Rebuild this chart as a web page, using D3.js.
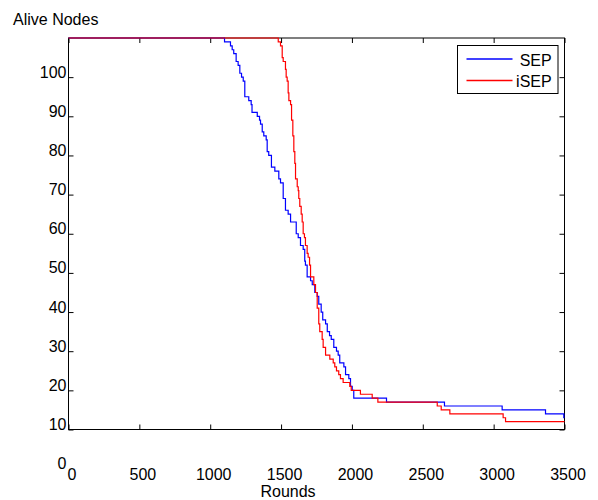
<!DOCTYPE html>
<html><head><meta charset="utf-8">
<script src="https://cdn.jsdelivr.net/npm/d3@7"></script>
<style>
body{margin:0;background:#fff}
text{font-family:"Liberation Sans",Arial,Helvetica,sans-serif;font-size:16px;fill:#000}
</style>
</head><body>
<svg id="c" width="598" height="500"></svg>
<script>
const seriesNames = ["SEP", "iSEP"];
const seriesColors = ["#0000ff", "#ff0000"];
const sepRounds = [0,1101,1143,1155,1166,1183,1197,1209,1221,1233,1244,1272,1289,1295,1332,1348,1355,1367,1378,1395,1402,1413,1432,1456,1484,1496,1515,1531,1550,1567,1607,1621,1637,1656,1667,1672,1684,1708,1720,1738,1755,1766,1783,1794,1814,1826,1842,1854,1872,1891,1903,1914,1943,1955,1978,1990,2002,2013,2244,2653,3060,3366,3495,3500];
const sepAlive = [110,109,108,107,106,104,103,101,100,99,95,94,93,91,90,89,88,86,85,84,81,80,77,76,74,73,69,66,65,63,60,59,57,56,53,52,49,48,47,45,44,42,40,38,37,35,34,33,31,30,29,27,26,24,23,21,20,18,17,16,15,14,13,13];
const isepRounds = [0,1480,1496,1508,1515,1531,1536,1543,1550,1555,1567,1574,1583,1590,1597,1602,1614,1621,1625,1632,1642,1649,1656,1665,1672,1684,1691,1701,1708,1731,1743,1755,1766,1773,1790,1797,1814,1844,1868,1879,1891,1907,1919,1938,1985,1995,2060,2143,2183,2602,2630,2691,3067,3084,3500];
const isepAlive = [110,109,108,105,104,102,100,99,96,94,93,89,85,81,78,74,72,71,69,67,65,63,60,59,57,55,54,52,49,47,45,41,37,35,33,31,29,28,27,26,25,24,23,22,21,20,19,18,17,16,15,14,13,12,12];
const xTicks = [0,500,1000,1500,2000,2500,3000,3500];
const yTicks = [0,10,20,30,40,50,60,70,80,90,100];
const xLabel = "Rounds";
const yLabel = "Alive Nodes";

const svg = d3.select("#c");
const L = 68.5, R = 564.5, T = 38, B = 429.5;
const x = d3.scaleLinear().domain([0, 3500]).range([L, R]);
const y = d3.scaleLinear().domain([10, 110]).range([B, T]);

// box
svg.append("rect").attr("x", L).attr("y", T).attr("width", R - L).attr("height", B - T)
  .attr("fill", "none").attr("stroke", "#000").attr("stroke-width", 1);

// axes
const gl = svg.append("g").attr("transform", `translate(${L},0)`)
  .call(d3.axisLeft(y).tickValues(yTicks).tickFormat(d3.format("d")).tickSizeInner(-5).tickSizeOuter(0).tickPadding(2));
gl.select(".domain").remove();
gl.selectAll(".tick text").attr("dy", 0).attr("font-size", 16).attr("font-family", null);
gl.selectAll(".tick").filter(d => d < 10).select("line").remove();

const gr = svg.append("g").attr("transform", `translate(${R},0)`)
  .call(d3.axisRight(y).tickValues(yTicks.filter(d => d >= 10)).tickSizeInner(-5).tickSizeOuter(0).tickFormat(""));
gr.select(".domain").remove();

const gb = svg.append("g").attr("transform", `translate(0,${B})`)
  .call(d3.axisBottom(x).tickValues(xTicks).tickFormat(d3.format("d")).tickSizeInner(-5).tickSizeOuter(0));
gb.select(".domain").remove();
gb.selectAll(".tick text").attr("y", 50.5).attr("dy", 0).attr("dx", 3).attr("font-size", 16).attr("font-family", null);

const gt = svg.append("g").attr("transform", `translate(0,${T})`)
  .call(d3.axisTop(x).tickValues(xTicks).tickSizeInner(-5).tickSizeOuter(0).tickFormat(""));
gt.select(".domain").remove();

svg.selectAll(".tick line").attr("stroke", "#000");

// labels
svg.append("text").attr("x", 13).attr("y", 25).text(yLabel);
svg.append("text").attr("x", 288).attr("y", 497).attr("text-anchor", "middle").text(xLabel);

// series
const series = [
  {name: seriesNames[0], color: seriesColors[0], pts: sepRounds.map((r, i) => [r, sepAlive[i]])},
  {name: seriesNames[1], color: seriesColors[1], pts: isepRounds.map((r, i) => [r, isepAlive[i]])}
];
const line = d3.line().x(d => x(d[0])).y(d => y(d[1])).curve(d3.curveStepAfter);
svg.selectAll("path.s").data(series).join("path").attr("class", "s")
  .attr("d", d => line(d.pts)).attr("fill", "none")
  .attr("stroke", d => d.color).attr("stroke-width", 1.2);

// legend
const lg = svg.append("g");
lg.append("rect").attr("x", 457.5).attr("y", 45.5).attr("width", 100.5).attr("height", 48)
  .attr("fill", "#fff").attr("stroke", "#000").attr("stroke-width", 1);
series.forEach((s, i) => {
  const ly = 59 + i * 21.5;
  lg.append("line").attr("x1", 466.5).attr("x2", 512.5).attr("y1", ly).attr("y2", ly)
    .attr("stroke", s.color).attr("stroke-width", 1.5);
  lg.append("text").attr("x", 551.7).attr("y", ly + 6.5).attr("text-anchor", "end").text(s.name);
});
</script>
</body></html>
